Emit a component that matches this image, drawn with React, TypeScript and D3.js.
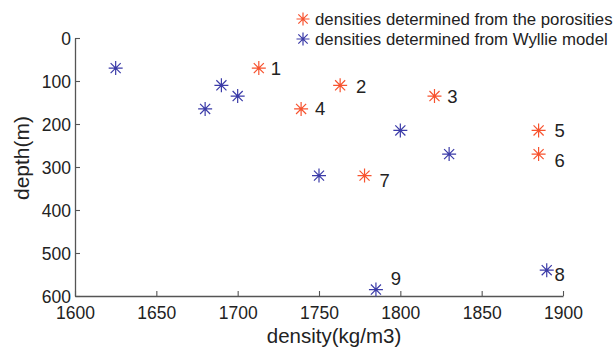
import React, { useEffect, useRef } from "react";
import { axisBottom, axisLeft, format, scaleLinear, select } from "d3";

// well numbers and depths (m)
const wells = ["1", "2", "3", "4", "5", "6", "7", "8", "9"];
const depths = [70, 110, 135, 165, 215, 270, 320, 540, 585];
// densities (kg/m3) from porosities (wells 8, 9 fall outside the plot)
const porosityDensity = [1713, 1763, 1821, 1739, 1885, 1885, 1778];
// densities (kg/m3) from Wyllie model
const wyllieDensity = [1625, 1690, 1700, 1680, 1800, 1830, 1750, 1890, 1785];
const xTicks = [1600, 1650, 1700, 1750, 1800, 1850, 1900];
const yTicks = [0, 100, 200, 300, 400, 500, 600];
const legendLabels = [
  "densities determined from the porosities",
  "densities determined from Wyllie model",
];

const RED = "#f7532f";
const BLUE = "#3b3ba8";

export default function App() {
  const svgRef = useRef(null);
  const w = 614;
  const h = 348;
  const margin = { top: 38, right: 51, bottom: 52, left: 75 };

  useEffect(() => {
    const svg = select(svgRef.current);
    svg.selectAll("*").remove();

    const x = scaleLinear()
      .domain([1600, 1900])
      .range([margin.left, w - margin.right]);
    const y = scaleLinear()
      .domain([0, 600])
      .range([margin.top, h - margin.bottom]);

    const font = "'Liberation Sans', Arial, sans-serif";

    // asterisk marker like matlab '*'
    const star = (g, cx, cy, color, r = 7) => {
      const d = r * 0.72;
      const p = `M${cx - r},${cy}H${cx + r}M${cx},${cy - r}V${cy + r}` +
        `M${cx - d},${cy - d}L${cx + d},${cy + d}M${cx - d},${cy + d}L${cx + d},${cy - d}`;
      g.append("path").attr("d", p).attr("stroke", color).attr("stroke-width", 1.2).attr("fill", "none");
    };

    const xAxis = svg
      .append("g")
      .attr("transform", `translate(0,${h - margin.bottom})`)
      .call(
        axisBottom(x).tickValues(xTicks).tickFormat(format("d"))
          .tickSize(-5).tickSizeOuter(0).tickPadding(7)
      );
    const yAxis = svg
      .append("g")
      .attr("transform", `translate(${margin.left},0)`)
      .call(
        axisLeft(y).tickValues(yTicks).tickFormat(format("d"))
          .tickSize(-5).tickSizeOuter(0).tickPadding(4)
      );

    [xAxis, yAxis].forEach((a) => {
      a.select(".domain").attr("stroke", "#555").attr("stroke-width", 1.3);
      a.selectAll(".tick line").attr("stroke", "#555").attr("stroke-width", 1.1);
      a.selectAll("text").attr("font-family", font).attr("font-size", 17.5).attr("fill", "#222");
    });
    xAxis.selectAll("text").attr("dy", "0.9em");
    yAxis.selectAll("text").attr("dy", "0.35em");

    const pts = svg.append("g");
    wyllieDensity.forEach((v, i) => star(pts, x(v), y(depths[i]), BLUE));
    porosityDensity.forEach((v, i) => star(pts, x(v), y(depths[i]), RED));

    // well number labels
    const labelOffsets = [
      [17, 0], [21, 1], [18, 0], [19, 0], [21, 0], [21, 6], [20, 5], [13, 4], [20, -11],
    ];
    wells.forEach((lab, i) => {
      const v = i < porosityDensity.length ? porosityDensity[i] : wyllieDensity[i];
      svg
        .append("text")
        .attr("x", x(v) + labelOffsets[i][0])
        .attr("y", y(depths[i]) + labelOffsets[i][1])
        .attr("dy", "0.35em")
        .attr("text-anchor", "middle")
        .attr("font-family", font)
        .attr("font-size", 18.5)
        .attr("fill", "#222")
        .text(lab);
    });

    // axis titles
    svg
      .append("text")
      .attr("x", 334)
      .attr("y", 343)
      .attr("text-anchor", "middle")
      .attr("font-family", font)
      .attr("font-size", 20.5)
      .attr("fill", "#222")
      .text("density(kg/m3)");
    svg
      .append("text")
      .attr("transform", `translate(29,158) rotate(-90)`)
      .attr("text-anchor", "middle")
      .attr("font-family", font)
      .attr("font-size", 21)
      .attr("fill", "#222")
      .text("depth(m)");

    // legend
    const lg = svg.append("g");
    [RED, BLUE].forEach((c, i) => {
      star(lg, 303, 19 + i * 20, c, 6.5);
      lg.append("text")
        .attr("x", 315)
        .attr("y", 19 + i * 20)
        .attr("dy", "0.35em")
        .attr("font-family", font)
        .attr("font-size", 16.8)
        .attr("fill", "#222")
        .text(legendLabels[i]);
    });
  }, []);

  return (
    <svg
      ref={svgRef}
      width={w}
      height={h}
      style={{ position: "absolute", left: 0, top: 0, background: "#fff" }}
    />
  );
}
